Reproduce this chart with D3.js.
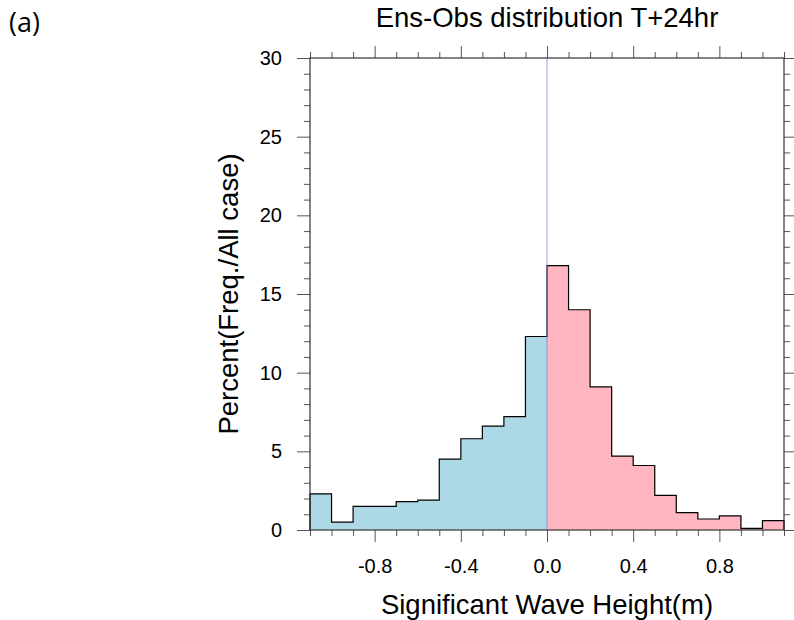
<!DOCTYPE html>
<html lang="en">
<head>
<meta charset="utf-8">
<title>Ens-Obs distribution T+24hr</title>
<script src="https://d3js.org/d3.v7.min.js"></script>
<style>
  body { margin: 0; background: #fff; }
  .title { font-family: "Liberation Sans", Arial, sans-serif; font-size: 27.5px; }
  .label { font-family: "Liberation Sans", Arial, sans-serif; font-size: 27.5px; }
  .tick text { font-family: "Liberation Sans", Arial, sans-serif; font-size: 20px; fill: #000; }
  .tick line { stroke: #555; }
  .panel { font-family: "Open Sans", "Noto Sans", sans-serif; font-size: 27px; }
</style>
</head>
<body>
<div id="vis"></div>
<script>
// bin left edges (m) and percent per bin
const binStart = [-1.1, -1.0, -0.9, -0.8, -0.7, -0.6, -0.5, -0.4, -0.3, -0.2, -0.1,
                   0.0,  0.1,  0.2,  0.3,  0.4,  0.5,  0.6,  0.7,  0.8,  0.9,  1.0];
const binWidth = 0.1;
const percent  = [2.3, 0.5, 1.5, 1.5, 1.8, 1.9, 4.5, 5.8, 6.6, 7.2, 12.3,
                  16.8, 14.0, 9.1, 4.7, 4.1, 2.2, 1.1, 0.7, 0.9, 0.1, 0.6];
const xMajor = [-0.8, -0.4, 0.0, 0.4, 0.8];
const xMinor = [-1.1, -1.0, -0.9, -0.7, -0.6, -0.5, -0.3, -0.2, -0.1,
                 0.1, 0.2, 0.3, 0.5, 0.6, 0.7, 0.9, 1.0, 1.1];
const yMajor = [0, 5, 10, 15, 20, 25, 30];
const yMinor = d3.range(0, 31).filter(d => d % 5 !== 0);

const width = 794, height = 620;
const plotL = 310, plotR = 784, plotT = 58, plotB = 530;

const svg = d3.select("#vis").append("svg")
  .attr("width", width).attr("height", height);

const x = d3.scaleLinear().domain([-1.1, 1.1]).range([plotL, plotR]);
const y = d3.scaleLinear().domain([0, 30]).range([plotB, plotT]);

const data = binStart.map((s, i) => ({x0: s, x1: s + binWidth, v: percent[i]}));

// fills
svg.selectAll(".bar").data(data).enter().append("rect")
  .attr("class", "bar")
  .attr("x", d => x(d.x0))
  .attr("width", d => x(d.x1) - x(d.x0) + 0.5)
  .attr("y", d => y(d.v))
  .attr("height", d => y(0) - y(d.v))
  .attr("fill", d => d.x0 < 0 ? "#add8e6" : "#ffb6c1");

// stepped outline
const last = data[data.length - 1];
const pts = [[binStart[0], 0]].concat(data.map(d => [d.x0, d.v]))
  .concat([[last.x1, last.v], [last.x1, 0]]);
svg.append("path")
  .attr("d", d3.line().x(d => x(d[0])).y(d => y(d[1])).curve(d3.curveStepAfter)(pts))
  .attr("fill", "none").attr("stroke", "#000").attr("stroke-width", 1.2);

// zero line
svg.append("line")
  .attr("x1", x(0)).attr("x2", x(0)).attr("y1", plotT).attr("y2", plotB)
  .attr("stroke", "#8080d0").attr("stroke-opacity", 0.5).attr("stroke-width", 1.5);

function axis(gen, pos, values, size, labels, pad) {
  const g = svg.append("g").attr("transform", pos)
    .call(gen.tickValues(values).tickSize(size).tickPadding(pad || 8)
      .tickFormat(labels ? labels : ""));
  g.select(".domain").remove();
  return g;
}

const fmtX = d => d3.format(".1f")(d).replace("−", "-");
axis(d3.axisBottom(x), `translate(0,${plotB})`, xMajor, 12, fmtX)
  .selectAll("text").attr("y", 43).attr("dy", 0);
axis(d3.axisBottom(x), `translate(0,${plotB})`, xMinor, 6);
axis(d3.axisTop(x), `translate(0,${plotT})`, xMajor, 12);
axis(d3.axisTop(x), `translate(0,${plotT})`, xMinor, 6);
axis(d3.axisLeft(y), `translate(${plotL},0)`, yMajor, 13, d3.format("d"), 15);
axis(d3.axisLeft(y), `translate(${plotL},0)`, yMinor, 6);
axis(d3.axisRight(y), `translate(${plotR},0)`, yMajor, 13);
axis(d3.axisRight(y), `translate(${plotR},0)`, yMinor, 6);

// frame
svg.append("rect")
  .attr("x", plotL).attr("y", plotT).attr("width", plotR - plotL).attr("height", plotB - plotT)
  .attr("fill", "none").attr("stroke", "#333").attr("stroke-width", 1.2);

svg.append("text").attr("class", "title")
  .attr("x", (plotL + plotR) / 2).attr("y", 27).attr("text-anchor", "middle")
  .text("Ens-Obs distribution T+24hr");

svg.append("text").attr("class", "label")
  .attr("x", (plotL + plotR) / 2).attr("y", 614).attr("text-anchor", "middle")
  .text("Significant Wave Height(m)");

svg.append("text").attr("class", "label")
  .attr("transform", `translate(238,${(plotT + plotB) / 2}) rotate(-90)`)
  .attr("text-anchor", "middle")
  .text("Percent(Freq./All case)");

svg.append("text").attr("class", "panel")
  .attr("x", 9).attr("y", 32).text("(a)");
</script>
</body>
</html>
